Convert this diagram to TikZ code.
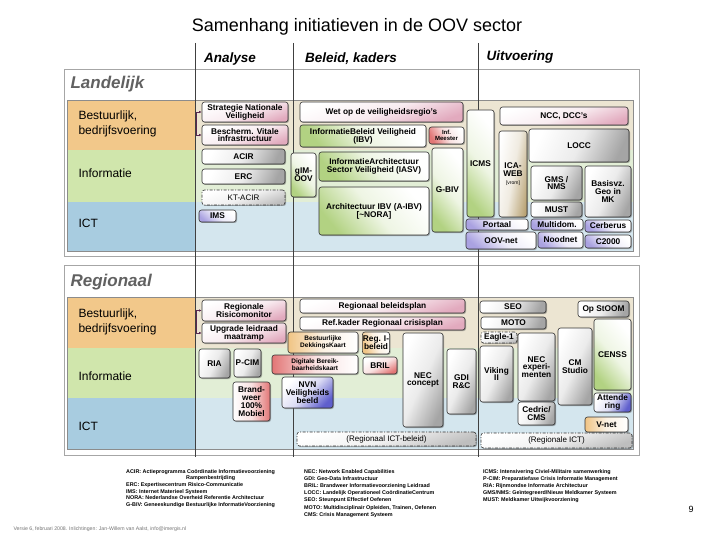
\documentclass[tikz,border=0pt]{standalone}
\usepackage{fontspec}
\setmainfont{Liberation Sans}
\usepackage{tikz}
\usetikzlibrary{arrows.meta,positioning,shadows}

\definecolor{bestL}{RGB}{242,200,138}
\definecolor{infoL}{RGB}{208,230,172}
\definecolor{ictL}{RGB}{168,204,224}
\definecolor{bestR}{RGB}{236,229,210}
\definecolor{infoR}{RGB}{226,238,214}
\definecolor{ictR}{RGB}{212,230,238}
\definecolor{tintgray}{RGB}{165,165,165}
\definecolor{tintdash}{RGB}{190,190,190}
\definecolor{tintpink}{RGB}{226,170,190}
\definecolor{tintgreen}{RGB}{178,210,130}
\definecolor{tintlilac}{RGB}{170,162,225}
\definecolor{tintred}{RGB}{226,118,118}
\definecolor{tintorange}{RGB}{240,196,132}
\definecolor{tintblue}{RGB}{95,95,205}
\definecolor{tintbrown}{RGB}{186,164,118}
\definecolor{bracketc}{RGB}{90,40,80}

\newcommand{\boxfont}{\fontsize{8.3}{7.8}\selectfont\bfseries}

\begin{document}
\begin{tikzpicture}[x=1pt,y=-1pt,>=Latex,
  box/.style={draw=black!80,line width=0.6pt,rounded corners=2.5pt,align=center,inner sep=0.5pt,font=\boxfont,
    drop shadow={shadow xshift=1pt,shadow yshift=-1pt,opacity=.45,fill=black!70}},
  tint/.style 2 args={box,top color=white,bottom color=#1,middle color=#1!22,shading angle=#2},
  graybox/.style={tint={tintgray}{65}},
  pinkbox/.style={tint={tintpink}{20}},
  greenbox/.style={tint={tintgreen}{-50}},
  lilacbox/.style={tint={tintlilac}{-40}},
  redbox/.style={tint={tintred}{#1}},
  redbox/.default=-60,
  orangebox/.style={tint={tintorange}{#1}},
  orangebox/.default=-90,
  bluebox/.style={tint={tintblue}{#1}},
  bluebox/.default=45,
  brownbox/.style={tint={tintbrown}{80}},
  dashbox/.style={tint={tintdash}{20},font=\fontsize{8}{8}\selectfont,dash pattern=on 3pt off 1.5pt on 1pt off 1.5pt},
  panel/.style={draw=black!35,fill=white},
  rowlabel/.style={anchor=west,align=left,font=\fontsize{12}{15}\selectfont},
  header/.style={font=\fontsize{13.5}{14}\selectfont\bfseries\itshape},
  paneltitle/.style={anchor=west,text=black!62,font=\fontsize{17}{17}\selectfont\bfseries\itshape},
  legend/.style={anchor=north west,align=left,inner sep=0pt,font=\fontsize{5.4}{#1}\selectfont\bfseries},
  legend/.default=7.2,
  bracket/.style={bracketc,line width=0.9pt,{Latex[length=2.5pt,width=2.5pt]}-{Latex[length=2.5pt,width=2.5pt]}}]
  \useasboundingbox (0,0) rectangle (720,540);

  % title and column headers
  \node[font=\fontsize{18}{18}\selectfont] (title) at (357,27) {Samenhang initiatieven in de OOV sector};
  \node[header] (hanalyse) at (230,59) {Analyse};
  \node[header] (hbeleid) at (351,59) {Beleid, kaders};
  \node[header] (huitvoer) at (520,57) {Uitvoering};

  % panels with bands
  \draw[panel] (64,69) rectangle (639,256);
  \fill[bestL] (67,100) rectangle (195,150);
  \fill[bestR] (195,100) rectangle (633,150);
  \fill[infoL] (67,150) rectangle (195,202);
  \fill[infoR] (195,150) rectangle (633,202);
  \fill[ictL] (67,202) rectangle (195,251);
  \fill[ictR] (195,202) rectangle (633,251);
  \draw[black!45] (67,100) rectangle (633,251);

  \draw[panel] (64,265) rectangle (639,455);
  \fill[bestL] (67,297) rectangle (195,348);
  \fill[bestR] (195,297) rectangle (633,348);
  \fill[infoL] (67,348) rectangle (195,398);
  \fill[infoR] (195,348) rectangle (633,398);
  \fill[ictL] (67,398) rectangle (195,449);
  \fill[ictR] (195,398) rectangle (633,449);
  \draw[black!45] (67,297) rectangle (633,449);

  \node[paneltitle] (landelijk) at (67,84) {Landelijk};
  \node[paneltitle] (regionaal) at (67,282) {Regionaal};

  \node[rowlabel] (lbest) at (75,124) {Bestuurlijk,\\bedrijfsvoering};
  \node[rowlabel] (linfo) at (75,173) {Informatie};
  \node[rowlabel] (lict) at (75,223) {ICT};
  \node[rowlabel] (rbest) at (75,322) {Bestuurlijk,\\bedrijfsvoering};
  \node[rowlabel] (rinfo) at (75,376) {Informatie};
  \node[rowlabel] (rict) at (75,426) {ICT};

  % column lines
  \draw[black!75,line width=0.7pt] (195,43) -- (195,457);
  \draw[black!75,line width=0.7pt] (293,43) -- (293,457);
  \draw[black!75,line width=0.7pt] (478,43) -- (478,457);

  % Landelijk
  \node[pinkbox,minimum width=86,minimum height=20] (snv) at (245,112) {Strategie Nationale\\Veiligheid};
  \node[pinkbox,minimum width=86,minimum height=20] (bvi) at (245,135) {Bescherm. Vitale\\infrastructuur};
  \node[graybox,minimum width=83,minimum height=15] (acir) at (243.5,156.5) {ACIR};
  \node[graybox,minimum width=83,minimum height=15] (erc) at (243.5,176.5) {ERC};
  \node[dashbox,minimum width=83,minimum height=15] (ktacir) at (243.5,197.5) {KT-ACIR};
  \node[lilacbox,minimum width=37,minimum height=12] (ims) at (217.5,216) {IMS};
  \node[greenbox,minimum width=25,minimum height=44] (gimoov) at (303.5,175) {gIM-\\OOV};
  \node[pinkbox,minimum width=163,minimum height=20] (wet) at (381.5,112) {Wet op de veiligheidsregio’s};
  \node[greenbox,minimum width=126,minimum height=22] (ibv) at (363,136) {InformatieBeleid Veiligheid\\(IBV)};
  \node[redbox,minimum width=35,minimum height=17,font=\fontsize{6}{6}\selectfont\bfseries] (infm) at (446.5,135.5) {Inf.\\Meester};
  \node[greenbox,minimum width=110,minimum height=29] (iasv) at (374,166.5) {InformatieArchitectuur\\Sector Veiligheid (IASV)};
  \node[greenbox,minimum width=110,minimum height=48] (aibv) at (374,211) {Architectuur IBV (A-IBV)\\{[}\textasciitilde NORA{]}};
  \node[greenbox,minimum width=31,minimum height=84] (gbiv) at (447.5,190) {G-BIV};
  \node[greenbox,minimum width=27,minimum height=107] (icms) at (480.5,163.5) {ICMS};
  \node[lilacbox,minimum width=62,minimum height=11] (portaal) at (497,224.5) {Portaal};
  \node[lilacbox,minimum width=70,minimum height=17] (oovnet) at (501,240.5) {OOV-net};
  \node[brownbox,minimum width=28,minimum height=86] (icaweb) at (513,174) {ICA-\\WEB\\{\fontsize{5}{6}\selectfont\mdseries[vrom]}};
  \node[pinkbox,minimum width=128,minimum height=18] (ncc) at (564,116) {NCC, DCC’s};
  \node[graybox,minimum width=100,minimum height=33] (locc) at (579,145.5) {LOCC};
  \node[graybox,minimum width=51,minimum height=34] (gms) at (556.5,183) {GMS /\\NMS};
  \node[graybox,minimum width=51,minimum height=15] (must) at (556.5,209.5) {MUST};
  \node[graybox,minimum width=46,minimum height=51] (basis) at (608,191.5) {Basisvz.\\Geo in\\MK};
  \node[lilacbox,minimum width=52,minimum height=11] (multi) at (557,224.5) {Multidom.};
  \node[lilacbox,minimum width=46,minimum height=12] (cerb) at (608,226) {Cerberus};
  \node[lilacbox,minimum width=45,minimum height=16] (nood) at (560.5,240) {Noodnet};
  \node[lilacbox,minimum width=46,minimum height=13] (ctwee) at (608,241.5) {C2000};
  \draw[bracket] (snv.west) -- ++(-5,0) |- (bvi.west);

  % Regionaal
  \node[pinkbox,minimum width=84,minimum height=21] (rrm) at (244,310.5) {Regionale\\Risicomonitor};
  \node[pinkbox,minimum width=84,minimum height=20] (ulm) at (244,333) {Upgrade leidraad\\maatramp};
  \node[graybox,minimum width=31,minimum height=29] (ria) at (214.5,363.5) {RIA};
  \node[graybox,minimum width=27,minimum height=28] (pcim) at (247.5,363) {P-CIM};
  \node[redbox=90,minimum width=37,minimum height=39] (brw) at (251.5,401.5) {Brand-\\weer\\100\%\\Mobiel};
  \node[bluebox,minimum width=51,minimum height=31] (nvn) at (307.5,392.5) {NVN\\Veiligheids\\beeld};
  \node[redbox=-90,minimum width=86,minimum height=19,font=\fontsize{6.5}{6.5}\selectfont\bfseries] (dbk) at (315,364.5) {Digitale Bereik-\\baarheidskaart};
  \node[orangebox,minimum width=70,minimum height=21,font=\fontsize{6.5}{6.5}\selectfont\bfseries] (bdk) at (323,342.5) {Bestuurlijke\\DekkingsKaart};
  \node[orangebox=-70,minimum width=26,minimum height=22] (regi) at (376,343) {Reg. I-\\beleid};
  \node[redbox=30,minimum width=34,minimum height=17] (bril) at (380,365.5) {BRIL};
  \node[pinkbox,minimum width=165,minimum height=14] (rbp) at (382.5,306) {Regionaal beleidsplan};
  \node[pinkbox,minimum width=165,minimum height=13] (rkc) at (382.5,323.5) {Ref.kader Regionaal crisisplan};
  \node[graybox,minimum width=40,minimum height=94] (necc) at (423,380) {NEC\\concept};
  \node[graybox,minimum width=29,minimum height=65] (gdi) at (461.5,381.5) {GDI\\R\&C};
  \node[dashbox,minimum width=179,minimum height=14] (rictb) at (386.5,439) {(Regionaal ICT-beleid)};
  \node[graybox,minimum width=66,minimum height=12] (seo) at (513,307) {SEO};
  \node[graybox,minimum width=65,minimum height=12] (moto) at (513.5,323) {MOTO};
  \node[dashbox,font=\boxfont,minimum width=36,minimum height=11] (eagle) at (499,337.5) {Eagle-1};
  \node[graybox,minimum width=33,minimum height=56] (viking) at (496.5,374) {Viking\\II};
  \node[graybox,minimum width=37,minimum height=68] (necx) at (536.5,367) {NEC\\experi-\\menten};
  \node[graybox,minimum width=37,minimum height=23] (cedric) at (536.5,413.5) {Cedric/\\CMS};
  \node[graybox,minimum width=34,minimum height=77] (cmstudio) at (575,366.5) {CM\\Studio};
  \node[graybox,minimum width=51,minimum height=16] (opstoom) at (603.5,309) {Op StOOM};
  \node[greenbox,minimum width=37,minimum height=71] (censs) at (612.5,354.5) {CENSS};
  \node[bluebox=60,minimum width=37,minimum height=19] (att) at (612.5,402.5) {Attende\\ring};
  \node[orangebox,minimum width=43,minimum height=15] (vnet) at (606.5,424.5) {V-net};
  \node[dashbox,minimum width=151,minimum height=15] (rict2) at (556.5,440.5) {(Regionale ICT)};
  \draw[bracket] (rrm.west) -- ++(-5,0) |- (ulm.west);

  % legend
  \node[legend=6.7] (leg1) at (126,469) {ACIR: Actieprogramma Coördinatie Informatievoorziening\\
    \hspace*{60pt}Rampenbestrijding\\
    ERC: Expertisecentrum Risico-Communicatie\\
    IMS: Internet Materieel Systeem\\
    NORA: Nederlandse Overheid Referentie Architectuur\\
    G-BIV: Geneeskundige Bestuurlijke InformatieVoorziening};
  \node[legend] (leg2) at (304,469) {NEC: Network Enabled Capabilities\\
    GDI: Geo-Data Infrastructuur\\
    BRIL: Brandweer Informatievoorziening Leidraad\\
    LOCC: Landelijk Operationeel CoördinatieCentrum\\
    SEO: Steunpunt Effectief Oefenen\\
    MOTO: Multidisciplinair Opleiden, Trainen, Oefenen\\
    CMS: Crisis Management Systeem};
  \node[legend] (leg3) at (483,469) {ICMS: Intensivering Civiel-Militaire samenwerking\\
    P-CIM: Preparatiefase Crisis Informatie Management\\
    RIA: Rijnmondse Informatie Architectuur\\
    GMS/NMS: Geïntegreerd/Nieuw Meldkamer Systeem\\
    MUST: Meldkamer Uitwijkvoorziening};

  \node[font=\fontsize{9}{9}\selectfont] (pagenr) at (691,509) {9};
  \node[anchor=west,text=black!55,font=\fontsize{5.2}{6}\selectfont] (versie) at (10,529)
    {Versie 6, februari 2008. Inlichtingen: Jan-Willem van Aalst, info@imergis.nl};
\end{tikzpicture}
\end{document}
